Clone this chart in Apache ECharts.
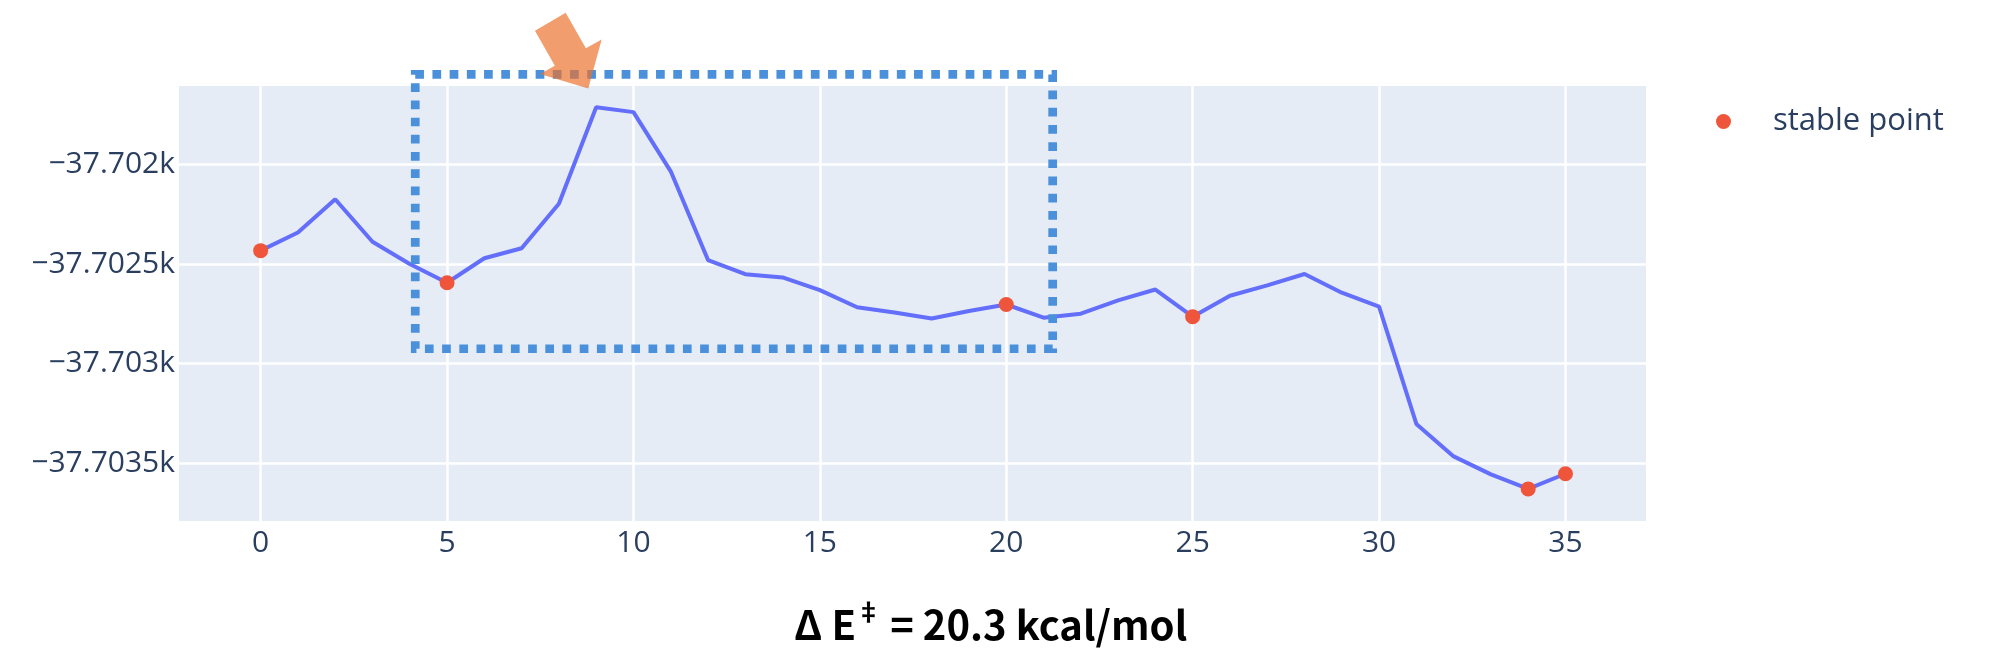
<!DOCTYPE html>
<html>
<head>
<meta charset="utf-8">
<script src="https://cdn.jsdelivr.net/npm/echarts@6/dist/echarts.min.js"></script>
<style>
  html, body { margin: 0; padding: 0; background: #fff; }
  #chartEnergy { width: 1999px; height: 672px; }
</style>
</head>
<body>
<div id="chartEnergy"></div>
<script>
// scan step
var steps = [0, 1, 2, 3, 4, 5, 6, 7, 8, 9, 10, 11, 12, 13, 14, 15, 16, 17,
    18, 19, 20, 21, 22, 23, 24, 25, 26, 27, 28, 29, 30, 31, 32, 33, 34, 35];
// energy along the path
var energy = [-37702.433, -37702.342, -37702.175, -37702.388, -37702.500, -37702.594,
    -37702.471, -37702.421, -37702.198, -37701.714, -37701.738, -37702.035,
    -37702.480, -37702.551, -37702.567, -37702.631, -37702.717, -37702.743,
    -37702.773, -37702.736, -37702.703, -37702.769, -37702.749, -37702.682,
    -37702.628, -37702.764, -37702.659, -37702.607, -37702.550, -37702.644,
    -37702.714, -37703.302, -37703.465, -37703.555, -37703.628, -37703.552];
// steps marked as stable points
var stableSteps = [0, 5, 20, 25, 34, 35];
// tick labels
var xTicks = [0, 5, 10, 15, 20, 25, 30, 35];
var yTicks = [-37703.5, -37703, -37702.5, -37702];
// highlight box corners (data units) and arrow tip
var boxCorners = [[4.147, -37701.549], [21.245, -37702.925]];
var arrowTip = [8.788, -37701.619];

function onReady(fn) {
    document.readyState === 'loading' ? document.addEventListener('DOMContentLoaded', fn) : fn();
}

onReady(function () {
    var myChart = echarts.init(document.getElementById('chartEnergy'));

    var lineData = steps.map(function (s, i) { return [s, energy[i]]; });
    var stableData = stableSteps.map(function (s) { return [s, energy[s]]; });

    myChart.setOption({
        animation: false,
        backgroundColor: '#fff',
        textStyle: { fontFamily: '"Open Sans", Roboto, sans-serif' },
        title: {
            text: '{b|Δ E}{s|‡}{b| = 20.3 kcal/mol}',
            left: 789,
            top: 594,
            textStyle: {
                rich: {
                    b: { fontFamily: '"Noto Sans CJK JP"', fontWeight: 'bold', fontSize: 40, color: '#000', verticalAlign: 'bottom', lineHeight: 46 },
                    s: { fontFamily: '"Noto Sans CJK JP"', fontWeight: 'bold', fontSize: 25, color: '#000', verticalAlign: 'top', lineHeight: 46 }
                }
            }
        },
        legend: {
            data: ['stable point'],
            icon: 'circle',
            left: 1716,
            top: 106,
            padding: 0,
            itemWidth: 15,
            itemHeight: 15,
            textStyle: { color: '#2a3f5f', fontSize: 31, lineHeight: 31, padding: [0, 0, 0, 37] }
        },
        grid: {
            left: 179,
            right: 353,
            top: 86,
            bottom: 151,
            show: true,
            backgroundColor: '#E5ECF6',
            borderWidth: 0
        },
        xAxis: {
            type: 'value',
            min: -2.19,
            max: 37.16,
            axisLine: { show: false },
            axisTick: { show: false, customValues: xTicks },
            axisLabel: { customValues: xTicks, color: '#2a3f5f', fontSize: 30, margin: 7 },
            splitLine: { show: true, lineStyle: { color: '#fff', width: 2.5 } }
        },
        yAxis: {
            type: 'value',
            min: -37703.789,
            max: -37701.607,
            axisLine: { show: false },
            axisTick: { show: false, customValues: yTicks },
            axisLabel: {
                customValues: yTicks,
                color: '#2a3f5f',
                fontSize: 30,
                margin: 4,
                formatter: function (v) {
                    return '\u2212' + parseFloat((Math.abs(v) / 1000).toFixed(5)) + 'k';
                }
            },
            splitLine: { show: true, lineStyle: { color: '#fff', width: 2.5 } }
        },
        series: [{
            name: 'energy',
            type: 'line',
            data: lineData,
            showSymbol: false,
            lineStyle: { color: '#636efa', width: 4 },
            z: 2
        }, {
            name: 'stable point',
            type: 'scatter',
            data: stableData,
            symbolSize: 15,
            itemStyle: { color: '#EF553B', opacity: 1 },
            z: 3
        }]
    });

    // annotation shapes placed through the chart's own scales
    var p1 = myChart.convertToPixel({ gridIndex: 0 }, boxCorners[0]);
    var p2 = myChart.convertToPixel({ gridIndex: 0 }, boxCorners[1]);
    var tip = myChart.convertToPixel({ gridIndex: 0 }, arrowTip);
    var arrowShape = [[-53.3, -57.6], [-22.6, -75.6], [-2.4, -40.1], [13.4, -49.0],
        [0, 0], [-48.3, -14.3], [-33.4, -22.7]];

    myChart.setOption({
        graphic: [{
            type: 'rect',
            z: 100,
            shape: { x: p1[0], y: p1[1], width: p2[0] - p1[0], height: p2[1] - p1[1] },
            style: { fill: null, stroke: '#4A90DB', lineWidth: 8.7, lineDash: [8.7, 8.5] }
        }, {
            type: 'polygon',
            z: 101,
            shape: {
                points: arrowShape.map(function (d) { return [tip[0] + d[0], tip[1] + d[1]]; })
            },
            style: { fill: 'rgba(234,113,45,0.69)' }
        }]
    });
});
</script>
</body>
</html>
